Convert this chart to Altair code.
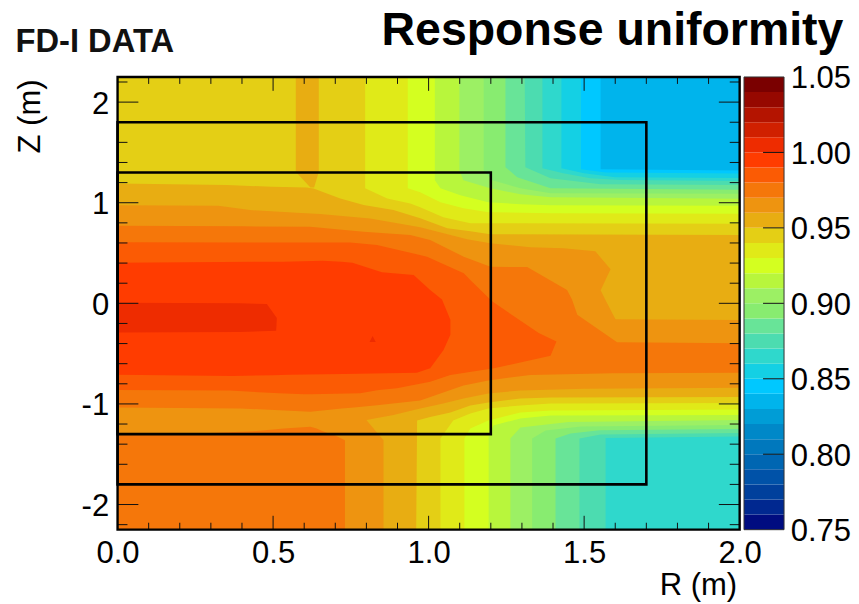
import altair as alt
import pandas as pd

LEVELS = [0.75, 0.76, 0.77, 0.78, 0.79, 0.80, 0.81, 0.82, 0.83, 0.84,
          0.85, 0.86, 0.87, 0.88, 0.89, 0.90, 0.91, 0.92, 0.93, 0.94,
          0.95, 0.96, 0.97, 0.98, 0.99, 1.00, 1.01, 1.02, 1.03, 1.04]
COLORS = ["#000c80", "#002890", "#00409c", "#0052a8", "#0066b2", "#0078bd", "#0088c8", "#009dd6", "#00b4ec", "#00c8ff",
          "#14d0e4", "#2fd8cc", "#4cdcb0", "#68e498", "#88ec70", "#9cf064", "#b8f63c", "#d4ff20", "#e0ea18", "#e4cf15",
          "#e8ad12", "#ee9410", "#f5770a", "#fb5b04", "#ff3c00", "#ee2c00", "#d02000", "#b41400", "#960800", "#7a0000"]

Z83 = [2.25, -2.25]
R83 = [2, 2]
Z84 = [2.25, 1.333, 1.32, -2.25]
R84 = [1.553, 1.553, 2, 2]
Z85 = [2.25, 1.333, 1.30, 1.29, -2.25]
R85 = [1.49, 1.49, 1.57, 2, 2]
Z86 = [2.25, 1.343, 1.294, 1.254, 1.245, -2.25]
R86 = [1.427, 1.427, 1.50, 1.60, 2, 2]
Z87 = [2.25, 1.343, 1.294, 1.244, 1.225, 1.215, -1.325, -1.338, -2.25]
R87 = [1.366, 1.366, 1.433, 1.52, 1.62, 2, 2, 1.569, 1.569]
Z88 = [2.25, 1.353, 1.244, 1.184, 1.175, -1.29, -1.303, -1.343, -2.25]
R88 = [1.309, 1.311, 1.392, 1.553, 2, 2, 1.553, 1.485, 1.485]
Z89 = [2.25, 1.353, 1.254, 1.144, 1.13, -1.25, -1.262, -1.294, -1.343, -2.25]
R89 = [1.247, 1.247, 1.285, 1.392, 2, 2, 1.55, 1.456, 1.408, 1.408]
Z90 = [2.25, 1.323, 1.224, 1.144, 1.095, 1.088, -1.21, -1.224, -1.264, -1.343, -2.25]
R90 = [1.177, 1.177, 1.205, 1.295, 1.392, 2, 2, 1.49, 1.376, 1.333, 1.333]
Z91 = [2.25, 1.323, 1.224, 1.144, 1.085, 1.055, 1.04, -1.16, -1.18, -1.234, -1.343, -2.25]
R91 = [1.099, 1.099, 1.112, 1.198, 1.295, 1.392, 2, 2, 1.45, 1.295, 1.263, 1.263]
Z92 = [2.25, 1.224, 1.144, 1.075, 1.005, 0.985, 0.975, 0.97, -1.11, -1.114, -1.144, -1.214, -1.323, -2.25]
R92 = [1.02, 1.02, 1.038, 1.102, 1.192, 1.295, 1.392, 2, 2, 1.392, 1.295, 1.208, 1.193, 1.193]
Z93 = [2.25, 1.144, 1.105, 1.005, 0.945, 0.905, 0.896, 0.89, -1.055, -1.065, -1.085, -1.164, -1.244, -1.343, -2.25]
R93 = [0.933, 0.933, 0.973, 1.038, 1.112, 1.192, 1.392, 2, 2, 1.392, 1.295, 1.192, 1.134, 1.115, 1.115]
Z94 = [2.25, 1.144, 1.043, 0.993, 0.955, 0.856, 0.796, 0.79, -0.99, -0.995, -1.015, -1.045, -1.095, -1.164, -1.343, -2.25]
R94 = [0.796, 0.796, 0.867, 0.941, 0.973, 1.047, 1.134, 2, 2, 1.392, 1.295, 1.192, 1.134, 1.079, 1.038, 1.038]
Z95 = [1.192, 1.175, 1.159, 1.152, 1.142, 1.043, 0.977, 0.927, 0.846, 0.746, 0.716, 0.687, 0.68, -0.93, -0.935, -0.945, -0.985, -1.015, -1.085, -1.13, -1.164, -2.25]
R95 = [0, 0.351, 0.496, 0.608, 0.63, 0.716, 0.791, 0.887, 0.973, 1.06, 1.134, 1.198, 2, 2, 1.392, 1.295, 1.192, 1.134, 1.07, 1.005, 0.963, 0.96]
Z95S = [2.25, 1.308, 1.152]
L95S = [0.573, 0.573, 0.62]
R95S = [0.647, 0.647, 0.632]
Z96 = [0.975, 0.97, 0.927, 0.90, 0.887, 0.844, 0.755, 0.637, 0.597, 0.557, 0.547, 0.517, 0.338, 0.129, 0.03, -0.10, -0.159, -0.165, -0.84, -0.85, -0.866, -0.896, -0.945, -0.995, -1.045, -1.111, -1.161, -1.361, -2.25]
R96 = [0, 0.324, 0.426, 0.576, 0.651, 0.812, 0.973, 1.124, 1.198, 1.327, 1.433, 1.536, 1.585, 1.553, 1.569, 1.591, 1.601, 2, 2, 1.5, 1.295, 1.192, 1.112, 1.047, 0.973, 0.887, 0.80, 0.855, 0.855]
Z97 = [0.772, 0.765, 0.76, 0.712, 0.679, 0.629, 0.463, 0.364, 0.36, 0.132, 0.037, -0.113, -0.386, -0.396, -0.69, -0.695, -0.712, -0.766, -0.816, -0.896, -0.965, -1.012, -1.035, -1.04, -1.045, -1.078]
L97 = [0] * 23 + [0.2, 0.394, 0.62]
R97 = [0, 0.404, 0.619, 0.791, 0.941, 1.005, 1.113, 1.199, 1.317, 1.445, 1.461, 1.478, 1.606, 2, 2, 1.59, 1.327, 1.192, 1.112, 1.038, 0.973, 0.834, 0.76, 0.74, 0.72, 0.62]
Z97B = [-1.228, -1.245, -1.271, -1.288, -1.298, -1.361, -2.25]
L97B = [0.62, 0.535, 0.437, 0.3, 0, 0, 0]
R97B = [0.62, 0.64, 0.66, 0.675, 0.69, 0.731, 0.731]
Z98 = [0.608, 0.604, 0.58, 0.464, 0.298, 0.232, 0.02, -0.296, -0.38, -0.522, -0.645, -0.712, -0.779, -0.845, -0.862, -0.866, -0.895, -0.905]
L98 = [0] * 15 + [0.36, 0.52, 0.6]
R98 = [0, 0.748, 0.834, 0.995, 1.113, 1.134, 1.204, 1.354, 1.411, 1.392, 1.21, 1.07, 1.005, 0.898, 0.84, 0.83, 0.78, 0.62]
Z99 = [0.424, 0.414, 0.404, 0.308, 0.281, 0.132, 0.037, -0.163, -0.313, -0.463, -0.646, -0.689, -0.702, -0.709, -0.714, -0.722]
L99 = [0.66, 0.533] + [0] * 12 + [0.15, 0.37]
R99 = [0.66, 0.72, 0.755, 0.85, 0.952, 1.005, 1.043, 1.07, 1.07, 1.048, 1.005, 0.962, 0.726, 0.55, 0.5, 0.37]
Z100 = [0.005, 0, -0.006, -0.146, -0.273, -0.286, -0.29]
R100 = [0, 0.39, 0.48, 0.512, 0.51, 0.39, 0]
Z100I = [-0.325, -0.385]
L100I = [0.82, 0.81]
R100I = [0.82, 0.83]

BOX_R = [1.2, 1.7]
BOX_Z = [1.3, 1.8]
R_MINOR = [0.1, 0.2, 0.3, 0.4, 0.6, 0.7, 0.8, 0.9, 1.1, 1.2, 1.3, 1.4, 1.6, 1.7, 1.8, 1.9]
R_MAJOR = [0.5, 1.0, 1.5]
Z_MINOR = [-2.2, -1.8, -1.6, -1.4, -1.2, -0.8, -0.6, -0.4, -0.2, 0.2, 0.4, 0.6, 0.8, 1.2, 1.4, 1.6, 1.8, 2.2]
Z_MAJOR = [-2, -1, 0, 1, 2]
BAR_TICKS = [0.80, 0.85, 0.90, 0.95, 1.00]

W, H = 628, 457
rscale = alt.Scale(domain=[0, 2], nice=False, zero=False)
zscale = alt.Scale(domain=[-2.25, 2.25], nice=False, zero=False)
cscale = alt.Scale(domain=[f"{v:.2f}" for v in LEVELS], range=COLORS)
FONT = "Liberation Sans"
AXIS_SIZE = 31.3
INK = "#000000"


def piece(level, z, hi, lo=None):
    df = pd.DataFrame({"z": z, "hi": hi, "lo": lo if lo is not None else [0] * len(z), "level": f"{level:.2f}"})
    return alt.Chart(df).mark_area(orient="horizontal", interpolate="linear").encode(
        y=alt.Y("z:Q", scale=zscale, axis=None),
        x=alt.X("lo:Q", scale=rscale, axis=None),
        x2="hi:Q",
        color=alt.Color("level:N", scale=cscale, legend=None),
    )


pieces = [
    piece(0.83, Z83, R83), piece(0.84, Z84, R84), piece(0.85, Z85, R85), piece(0.86, Z86, R86),
    piece(0.87, Z87, R87), piece(0.88, Z88, R88), piece(0.89, Z89, R89), piece(0.90, Z90, R90),
    piece(0.91, Z91, R91), piece(0.92, Z92, R92), piece(0.93, Z93, R93), piece(0.94, Z94, R94),
    piece(0.95, Z95, R95), piece(0.95, Z95S, R95S, L95S), piece(0.96, Z96, R96),
    piece(0.97, Z97, R97, L97), piece(0.97, Z97B, R97B, L97B), piece(0.98, Z98, R98, L98),
    piece(0.99, Z99, R99, L99), piece(1.00, Z100, R100), piece(1.00, Z100I, R100I, L100I),
]


def xticks(vals, length):
    d = pd.DataFrame({"r": vals})
    base = alt.Chart(d).mark_rule(color="#111111", strokeWidth=1)
    x = alt.X("r:Q", scale=rscale, axis=None)
    return [base.encode(x=x, y=alt.value(0), y2=alt.value(length)),
            base.encode(x=x, y=alt.value(H), y2=alt.value(H - length))]


def zticks(vals, length):
    d = pd.DataFrame({"z": vals})
    base = alt.Chart(d).mark_rule(color="#111111", strokeWidth=1)
    y = alt.Y("z:Q", scale=zscale, axis=None)
    return [base.encode(y=y, x=alt.value(0), x2=alt.value(length)),
            base.encode(y=y, x=alt.value(W), x2=alt.value(W - length))]


axes_layer = alt.Chart(pd.DataFrame({"r": [0, 2], "z": [-2.25, 2.25]})).mark_point(opacity=0).encode(
    x=alt.X("r:Q", scale=rscale, axis=alt.Axis(
        title="R (m)", titleFont=FONT, titleFontSize=AXIS_SIZE, titleFontWeight="normal", titleColor=INK,
        titleX=625, titleY=65, titleAlign="right", titleBaseline="alphabetic",
        values=[0, 0.5, 1.0, 1.5, 2.0], format=".1f", domain=False, ticks=False, grid=False,
        labelFont=FONT, labelFontSize=AXIS_SIZE, labelColor=INK, labelPadding=8, labelOverlap=False, labelBound=False, labelFlush=False)),
    y=alt.Y("z:Q", scale=zscale, axis=alt.Axis(
        title="Z (m)", titleFont=FONT, titleFontSize=AXIS_SIZE, titleFontWeight="normal", titleColor=INK,
        titleX=-78.3, titleY=76.7, titleAngle=270, titleAlign="left", titleBaseline="alphabetic",
        values=Z_MAJOR, labelExpr="'' + datum.value", domain=False, ticks=False, grid=False, labelOffset=2,
        labelFont=FONT, labelFontSize=AXIS_SIZE, labelColor=INK, labelPadding=9, labelOverlap=False, labelBound=False, labelFlush=False)),
)

boxes = alt.Chart(pd.DataFrame({"r": BOX_R, "z": BOX_Z})).transform_calculate(
    r0="0", zn="-datum.z"
).mark_rect(filled=False, stroke="#000000", strokeWidth=2.6).encode(
    x=alt.X("r0:Q", scale=rscale, axis=None), x2="r:Q",
    y=alt.Y("z:Q", scale=zscale, axis=None), y2="zn:Q",
)

frame = alt.Chart(pd.DataFrame({"r0": [0], "r1": [2], "z0": [-2.25], "z1": [2.25]})).mark_rect(
    filled=False, stroke="#000000", strokeWidth=2.4).encode(
    x=alt.X("r0:Q", scale=rscale, axis=None), x2="r1:Q",
    y=alt.Y("z0:Q", scale=zscale, axis=None), y2="z1:Q",
)

main = alt.layer(*pieces, *xticks(R_MINOR, 7), *xticks(R_MAJOR, 14), *zticks(Z_MINOR, 10), *zticks(Z_MAJOR, 21),
                 boxes, frame)

# colour bar
bar_df = pd.DataFrame({"lo": LEVELS, "hi": [round(v + 0.01, 2) for v in LEVELS], "level": [f"{v:.2f}" for v in LEVELS]})
bscale = alt.Scale(domain=[0.75, 1.05], nice=False, zero=False)
BAR_L, BAR_R, BAR_T = 632.4, 672.8, 651.6
bar = alt.Chart(bar_df).mark_rect().encode(
    x=alt.value(BAR_L), x2=alt.value(BAR_R),
    y=alt.Y("lo:Q", scale=bscale, axis=alt.Axis(
        orient="right", offset=44, title=None, values=[0.75, 0.80, 0.85, 0.90, 0.95, 1.00, 1.05], format=".2f",
        domain=False, ticks=False, grid=False, labelFont=FONT, labelFontSize=AXIS_SIZE, labelColor=INK, labelOffset=2,
        labelPadding=7, labelOverlap=False, labelBound=False, labelFlush=False)),
    y2="hi:Q",
    color=alt.Color("level:N", scale=cscale, legend=None),
)
bar_ticks = alt.Chart(pd.DataFrame({"v": BAR_TICKS})).mark_rule(color="#111111", strokeWidth=1).encode(
    y=alt.Y("v:Q", scale=bscale, axis=None), x=alt.value(BAR_T), x2=alt.value(BAR_R))
bar_frame = alt.Chart(pd.DataFrame({"a": [0.75], "b": [1.05]})).mark_rect(filled=False, stroke="#333333", strokeWidth=1).encode(
    x=alt.value(BAR_L), x2=alt.value(BAR_R), y=alt.Y("a:Q", scale=bscale, axis=None), y2="b:Q")

title = alt.Chart(pd.DataFrame({"t": ["Response uniformity"]})).mark_text(
    font=FONT, fontSize=46.9, fontWeight="bold", align="left", baseline="alphabetic", color="#000000"
).encode(text="t:N", x=alt.value(266.5), y=alt.value(-32))
label = alt.Chart(pd.DataFrame({"t": ["FD-I DATA"]})).mark_text(
    font=FONT, fontSize=33, fontWeight="bold", align="left", baseline="alphabetic", color="#111111"
).encode(text="t:N", x=alt.value(-103), y=alt.value(-25.2))

chart = alt.layer(axes_layer, main, bar, bar_ticks, bar_frame, title, label).resolve_scale(
    y="independent"
).resolve_axis(
    x="independent", y="independent"
).properties(
    width=W, height=H,
    padding={"left": 110.6, "top": 66.8, "right": 112.4, "bottom": 72.2},
    autosize=alt.AutoSizeParams(type="none"),
    background="white",
).configure_view(stroke=None)

chart.save("out.html", embed_options={"renderer": "svg", "actions": False})
